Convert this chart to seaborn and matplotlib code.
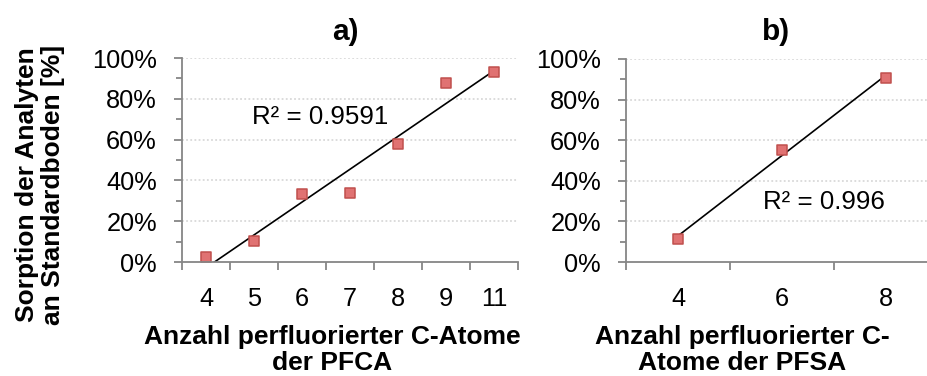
import matplotlib
matplotlib.use("Agg")
import matplotlib.pyplot as plt
import seaborn as sns
import pandas as pd
from matplotlib.ticker import PercentFormatter, FixedLocator

# Sorption on standard soil vs. number of perfluorinated C atoms
pfca_chain = ["4", "5", "6", "7", "8", "9", "11"]
pfca_sorption = [0.023, 0.105, 0.333, 0.337, 0.578, 0.877, 0.930]
pfca_r2 = "R² = 0.9591"

pfsa_chain = ["4", "6", "8"]
pfsa_sorption = [0.114, 0.554, 0.906]
pfsa_r2 = "R² = 0.996"

panel_titles = ["a)", "b)"]
x_titles = ["Anzahl perfluorierter C-Atome\nder PFCA",
            "Anzahl perfluorierter C-\nAtome der PFSA"]
y_title = "Sorption der Analyten\nan Standardboden [%]"

sns.set_theme(style="white")
plt.rcParams["font.family"] = ["Liberation Sans", "DejaVu Sans"]
plt.rcParams["text.color"] = "black"
plt.rcParams["axes.labelcolor"] = "black"
plt.rcParams["xtick.color"] = "black"
plt.rcParams["ytick.color"] = "black"

W, H = 928, 376
fig = plt.figure(figsize=(W / 100, H / 100), dpi=100)


def px_axes(left, top, right, bottom):
    return fig.add_axes([left / W, 1 - bottom / H, (right - left) / W, (bottom - top) / H])


axis_grey = "#868686"
grid_grey = "#D9D9D9"
marker_fill = "#E07272"
marker_edge = "#C0504D"
tick_fs = 18.3
label_fs = 19


def draw_panel(ax, cats, vals, r2_text, r2_pos, xmax):
    df = pd.DataFrame({"pos": range(1, len(cats) + 1), "val": vals})
    ax.set_xlim(0.5, xmax)
    ax.set_ylim(0, 1.0)
    for y in [0.2, 0.4, 0.6, 0.8, 1.0]:
        ax.axhline(y, color=grid_grey, lw=1.3, ls=(0, (1, 1.3)), zorder=0)
    sns.regplot(data=df, x="pos", y="val", ax=ax, ci=None, scatter=False,
                truncate=True, line_kws=dict(color="black", lw=1.2, zorder=3))
    sns.scatterplot(data=df, x="pos", y="val", ax=ax, marker="s", s=48,
                    color=marker_fill, edgecolor=marker_edge, linewidth=1.1,
                    zorder=4, legend=False)
    ax.set_xlabel("")
    ax.set_ylabel("")
    ax.set_xticks(range(1, len(cats) + 1))
    ax.set_xticklabels(cats)
    ax.xaxis.set_minor_locator(FixedLocator([i + 0.5 for i in range(len(cats) + 1)]))
    ax.set_yticks([0, 0.2, 0.4, 0.6, 0.8, 1.0])
    ax.yaxis.set_minor_locator(FixedLocator([0.1, 0.3, 0.5, 0.7, 0.9]))
    ax.yaxis.set_major_formatter(PercentFormatter(1.0, decimals=0))
    ax.tick_params(axis="x", which="major", length=0, pad=18, labelsize=tick_fs,
                   labelcolor="black")
    ax.tick_params(axis="x", which="minor", length=5.8, width=1.3, color=axis_grey,
                   direction="out", bottom=True)
    ax.tick_params(axis="y", which="major", length=5.5, width=1.3, color=axis_grey,
                   direction="out", left=True, pad=12.5, labelsize=tick_fs,
                   labelcolor="black")
    ax.tick_params(axis="y", which="minor", length=4.5, width=1.3, color=axis_grey,
                   direction="out", left=True)
    for side in ["top", "right"]:
        ax.spines[side].set_visible(False)
    for side in ["left", "bottom"]:
        ax.spines[side].set_color(axis_grey)
        ax.spines[side].set_linewidth(1.3)
    ax.spines["bottom"].set_zorder(5)
    ax.text(r2_pos[0], r2_pos[1], r2_text, fontsize=18.6, ha="center",
            va="center", color="black", zorder=6)


ax_a = px_axes(182, 58, 518, 262)
draw_panel(ax_a, pfca_chain, pfca_sorption, pfca_r2, (3.375, 0.71), 7.5)

# the right-hand panel runs past the figure edge
ax_b = px_axes(626, 59, 938, 262)
draw_panel(ax_b, pfsa_chain, pfsa_sorption, pfsa_r2, (2.404, 0.297), 3.5)

fig.text(345 / W, 1 - 32 / H, panel_titles[0], fontsize=21.5, fontweight="bold",
         ha="center", va="center", color="black")
fig.text(776 / W, 1 - 32 / H, panel_titles[1], fontsize=21.5, fontweight="bold",
         ha="center", va="center", color="black")

fig.text(332 / W, 1 - 350 / H, x_titles[0], fontsize=label_fs, fontweight="bold",
         ha="center", va="center", multialignment="center", linespacing=1.12,
         color="black")
fig.text(742 / W, 1 - 350 / H, x_titles[1], fontsize=label_fs, fontweight="bold",
         ha="center", va="center", multialignment="center", linespacing=1.12,
         color="black")
fig.text(40 / W, 1 - 185 / H, y_title, fontsize=label_fs, fontweight="bold",
         rotation=90, ha="center", va="center", multialignment="center",
         linespacing=1.12, color="black")

fig.savefig("out.png", dpi=100)
